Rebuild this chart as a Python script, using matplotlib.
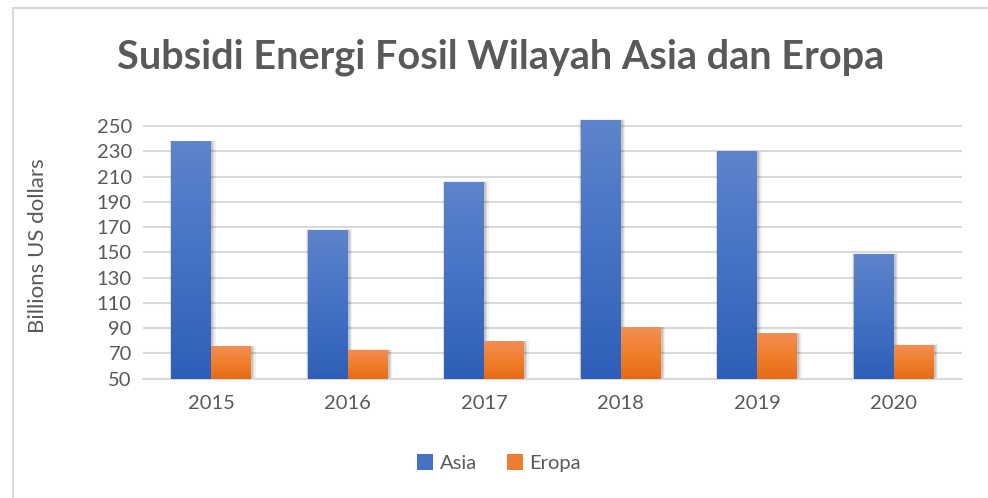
import numpy as np
import matplotlib
matplotlib.use("Agg")
import matplotlib.pyplot as plt
from matplotlib.patches import Rectangle
from matplotlib.colors import LinearSegmentedColormap

years = ["2015", "2016", "2017", "2018", "2019", "2020"]
asia = [238, 168, 206, 255, 230, 149]
eropa = [76, 73, 80, 91, 86, 77]
yticks = list(range(50, 251, 20))

plt.rcParams['font.family'] = ['Lato', 'DejaVu Sans']
txt = '#595959'

fig = plt.figure(figsize=(9.88, 4.98), dpi=100)
ax = fig.add_axes([0.1447, 0.2396, 0.8290, 0.5327])

# chart frame
fig.patches.append(Rectangle((13 / 988, -0.05), 1.2, 1 - 8 / 498 + 0.05,
                             transform=fig.transFigure, fill=False,
                             edgecolor='#d9d9d9', linewidth=1.5))

x = np.arange(len(years))
w = 0.293
cmap_blue = LinearSegmentedColormap.from_list('b', ['#2e5fb8', '#4472c4', '#5e84cb'])
cmap_orange = LinearSegmentedColormap.from_list('o', ['#e66a18', '#f07f2c', '#f28e55'])
grad = np.linspace(0, 1, 256).reshape(-1, 1)

def draw_bars(xs, vals, cmap, label, color):
    bars = ax.bar(xs, [v - 50 for v in vals], w, bottom=50, color=color,
                  label=label, zorder=3)
    for b in bars:
        x0, y0 = b.get_x(), b.get_y()
        bw, bh = b.get_width(), b.get_height()
        # soft shadow
        for k, a in zip([0.035, 0.025, 0.015], [0.06, 0.08, 0.1]):
            ax.add_patch(Rectangle((x0 - k * 0.3, y0 - 1.2), bw + k * 1.2, bh + k * 40,
                                   facecolor='black', alpha=a, linewidth=0, zorder=2))
        im = ax.imshow(grad, cmap=cmap, aspect='auto', origin='lower',
                       extent=[x0, x0 + bw, y0, y0 + bh], zorder=3.5)
        im.set_clip_path(b)
    return bars

draw_bars(x - w / 2, asia, cmap_blue, 'Asia', '#4472c4')
draw_bars(x + w / 2, eropa, cmap_orange, 'Eropa', '#ed7d31')

ax.set_xlim(-0.5, len(years) - 0.5)
ax.set_ylim(50, 260)
ax.set_yticks(yticks)
ax.set_xticks(x)
ax.set_xticklabels(years)
ax.yaxis.grid(True, color='#d9d9d9', linewidth=1.5, zorder=0)
ax.set_axisbelow(True)
for s in ['top', 'right', 'left']:
    ax.spines[s].set_visible(False)
ax.spines['bottom'].set_color('#d9d9d9')
ax.spines['bottom'].set_linewidth(1.5)
ax.tick_params(length=0, labelsize=14.5, colors=txt, pad=8)
ax.tick_params(axis='x', pad=12)
ax.set_ylabel('Billions US dollars', fontsize=16, color=txt)
ax.yaxis.set_label_coords(-0.116, 0.5)

fig.text(0.507, 0.886, 'Subsidi Energi Fosil Wilayah Asia dan Eropa',
         ha='center', va='center', fontsize=28.5, fontweight='bold', color=txt)

leg = fig.legend(loc='center', bbox_to_anchor=(0.505, 0.07), ncol=2, frameon=False,
                 fontsize=14.5, handlelength=0.8, handleheight=0.8, handletextpad=0.3,
                 columnspacing=1.5, labelcolor=txt)

fig.savefig('out.png', dpi=100)
